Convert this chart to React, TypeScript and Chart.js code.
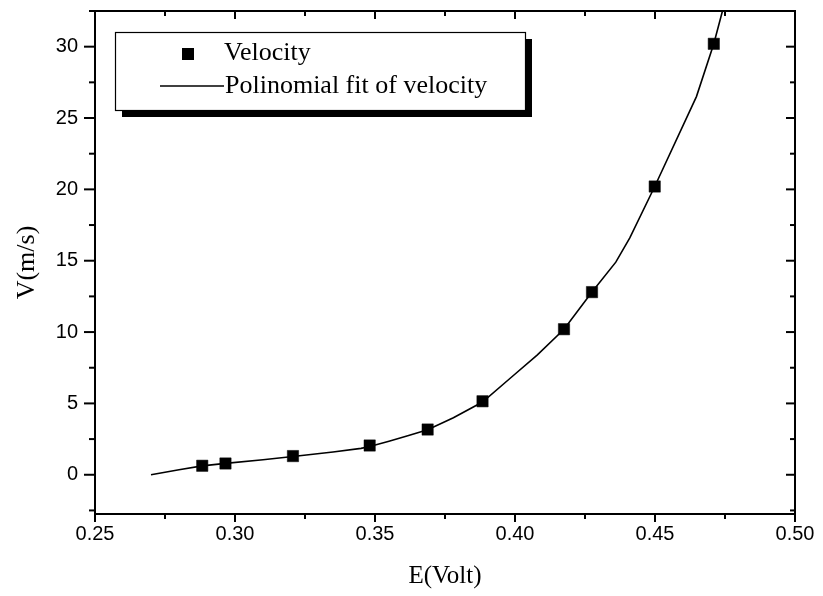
import React, { useEffect, useRef } from "react";
import { Chart, registerables } from "chart.js";

Chart.register(...registerables);

// Measured data points (E in Volt, V in m/s)
const velocityE = [0.2883, 0.2966, 0.3207, 0.3481, 0.3688, 0.3884, 0.4175, 0.4275, 0.4499, 0.471];
const velocityV = [0.63, 0.79, 1.31, 2.05, 3.17, 5.15, 10.2, 12.8, 20.2, 30.2];

// Polynomial fit curve
const fitE = [0.27, 0.28, 0.2883, 0.2966, 0.31, 0.3207, 0.335, 0.345, 0.3481, 0.355, 0.362, 0.3688, 0.378, 0.3884, 0.3988, 0.408, 0.4175, 0.4275, 0.436, 0.441, 0.4499, 0.4648, 0.471, 0.4745];
const fitV = [0.0, 0.35, 0.62, 0.8, 1.05, 1.28, 1.6, 1.85, 1.98, 2.35, 2.75, 3.15, 4.0, 5.1, 6.85, 8.4, 10.2, 12.8, 14.9, 16.6, 20.2, 26.5, 30.2, 32.8];

const xTickValues = [0.25, 0.3, 0.35, 0.4, 0.45, 0.5];
const yTickValues = [0, 5, 10, 15, 20, 25, 30];

const seriesLabels = ["Velocity", "Polinomial fit of velocity"];
const xTitle = "E(Volt)";
const yTitle = "V(m/s)";

const SERIF = "'Liberation Serif', 'Times New Roman', serif";
const SANS = "'Liberation Sans', Arial, sans-serif";

const framePlugin = {
  id: "originFrame",
  afterDatasetsDraw(chart: any) {
    const { ctx, chartArea: a, scales } = chart;
    const xs = scales.x;
    const ys = scales.y;
    ctx.save();
    ctx.strokeStyle = "#000";
    ctx.lineWidth = 2;
    ctx.strokeRect(a.left, a.top, a.right - a.left, a.bottom - a.top);
    const line = (x1: number, y1: number, x2: number, y2: number) => {
      ctx.beginPath();
      ctx.moveTo(x1, y1);
      ctx.lineTo(x2, y2);
      ctx.stroke();
    };
    // x ticks
    for (let i = 0; i < xTickValues.length; i++) {
      const v = xTickValues[i];
      const px = xs.getPixelForValue(v);
      line(px, a.bottom, px, a.bottom + 8);
      line(px, a.top, px, a.top + 8);
      if (i < xTickValues.length - 1) {
        const m = (v + xTickValues[i + 1]) / 2;
        const pm = xs.getPixelForValue(m);
        line(pm, a.bottom, pm, a.bottom + 5);
        line(pm, a.top, pm, a.top + 5);
      }
    }
    // y ticks
    const yMinor: number[] = [];
    for (let i = 0; i < yTickValues.length; i++) {
      const v = yTickValues[i];
      const py = ys.getPixelForValue(v);
      line(a.left - 11, py, a.left, py);
      line(a.right - 9, py, a.right, py);
      yMinor.push(v + 2.5);
    }
    yMinor.push(yTickValues[0] - 2.5);
    for (const m of yMinor) {
      if (m < ys.min || m > ys.max) continue;
      const pm = ys.getPixelForValue(m);
      line(a.left - 6, pm, a.left, pm);
      line(a.right - 5, pm, a.right, pm);
    }
    ctx.restore();
  },
};

const legendPlugin = {
  id: "originLegend",
  afterDraw(chart: any) {
    const { ctx } = chart;
    const bx = 115, by = 32, bw = 410, bh = 78;
    ctx.save();
    ctx.fillStyle = "#000";
    ctx.fillRect(bx + 7, by + 7, bw, bh);
    ctx.fillStyle = "#fff";
    ctx.fillRect(bx, by, bw, bh);
    ctx.strokeStyle = "#000";
    ctx.lineWidth = 1.2;
    ctx.strokeRect(bx + 0.5, by + 0.5, bw, bh);
    // row 1 : marker
    ctx.fillStyle = "#000";
    ctx.fillRect(188 - 6, 54 - 6, 12, 12);
    // row 2 : line
    ctx.lineWidth = 1.5;
    ctx.beginPath();
    ctx.moveTo(160, 86);
    ctx.lineTo(224, 86);
    ctx.stroke();
    ctx.font = `26px ${SERIF}`;
    ctx.textBaseline = "middle";
    ctx.textAlign = "left";
    ctx.fillText(chart.data.datasets[0].label, 224, 53);
    ctx.fillText(chart.data.datasets[1].label, 225, 86);
    ctx.restore();
  },
};

export default function App() {
  const ref = useRef<HTMLCanvasElement | null>(null);
  useEffect(() => {
    if (!ref.current) return;
    const chart = new Chart(ref.current, {
      type: "scatter",
      data: {
        datasets: [
          {
            label: seriesLabels[0],
            data: velocityE.map((e, i) => ({ x: e, y: velocityV[i] })),
            pointStyle: "rect",
            pointRadius: 8,
            pointBackgroundColor: "#000",
            pointBorderColor: "#000",
            pointBorderWidth: 0.5,
            showLine: false,
            order: 0,
          },
          {
            label: seriesLabels[1],
            data: fitE.map((e, i) => ({ x: e, y: fitV[i] })),
            showLine: true,
            borderColor: "#000",
            borderWidth: 1.6,
            pointRadius: 0,
            tension: 0,
            order: 1,
          },
        ],
      },
      options: {
        animation: false,
        responsive: false,
        events: [],
        layout: { padding: { left: 0, right: 28, top: 11, bottom: 0 } },
        plugins: { legend: { display: false }, tooltip: { enabled: false } },
        scales: {
          x: {
            type: "linear",
            min: 0.25,
            max: 0.5,
            afterFit: (s: any) => {
              s.height = 82;
              s.paddingLeft = 0;
              s.paddingRight = 0;
            },
            afterBuildTicks: (s: any) => { s.ticks = xTickValues.map((v) => ({ value: v })); },
            grid: { display: false, drawTicks: false },
            border: { display: false },
            ticks: {
              padding: 8,
              color: "#000",
              font: { family: SANS, size: 20 },
              callback: (v: any) => Number(v).toFixed(2),
              maxRotation: 0,
              autoSkip: false,
            },
            title: {
              display: true,
              text: xTitle,
              color: "#000",
              font: { family: SERIF, size: 25 },
              padding: { top: 0, bottom: 5 },
            },
          },
          y: {
            type: "linear",
            min: -2.75,
            max: 32.5,
            afterFit: (s: any) => {
              s.width = 95;
              s.paddingTop = 0;
              s.paddingBottom = 0;
            },
            afterBuildTicks: (s: any) => { s.ticks = yTickValues.map((v) => ({ value: v })); },
            grid: { display: false, drawTicks: false },
            border: { display: false },
            ticks: {
              padding: 17,
              color: "#000",
              font: { family: SANS, size: 20 },
              autoSkip: false,
            },
            title: {
              display: true,
              text: yTitle,
              color: "#000",
              font: { family: SERIF, size: 26 },
              padding: { top: 12, bottom: 0 },
            },
          },
        },
      },
      plugins: [framePlugin, legendPlugin],
    } as any);
    return () => chart.destroy();
  }, []);
  return (
    <div style={{ position: "fixed", left: 0, top: 0, width: 823, height: 596, background: "#fff" }}>
      <canvas ref={ref} width={823} height={596} style={{ display: "block" }} />
    </div>
  );
}
